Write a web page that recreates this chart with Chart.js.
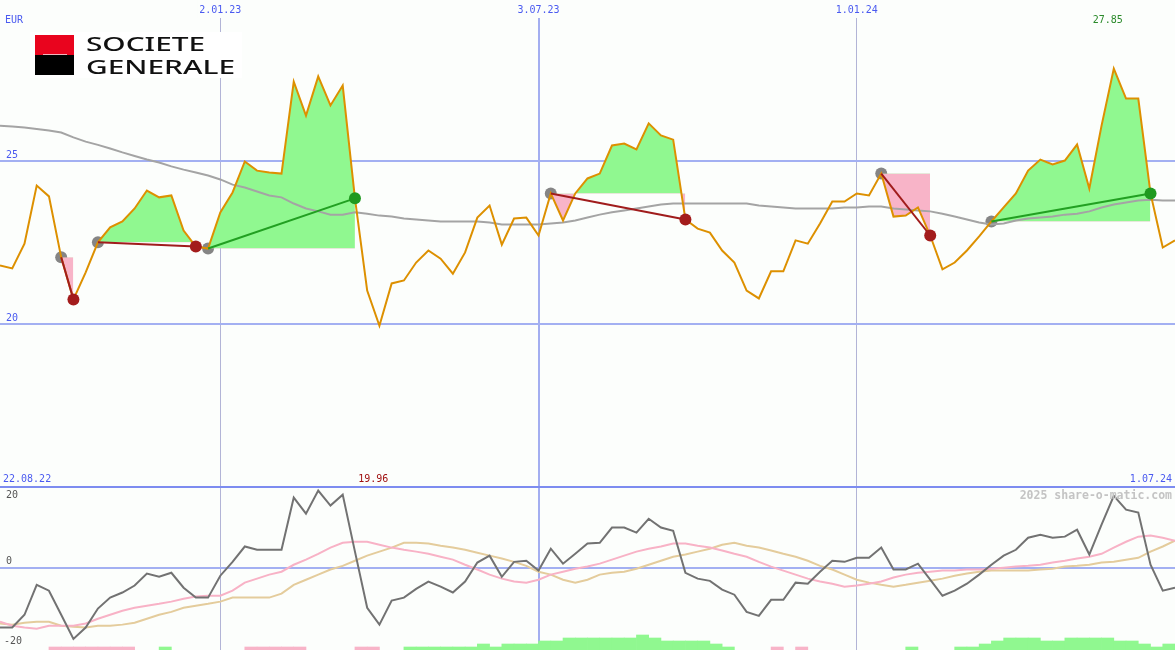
<!DOCTYPE html>
<html>
<head>
<meta charset="utf-8">
<script src="https://cdn.jsdelivr.net/npm/chart.js@4.4.1/dist/chart.umd.min.js"></script>
<style>
  body { margin: 0; background: #fcfefc; }
  #wrap { position: relative; width: 1175px; height: 650px; }
  canvas { display: block; background: #fcfefc; }
</style>
</head>
<body>
<div id="wrap"><canvas id="chart" width="1175" height="650"></canvas></div>
<script>
// weekly closes, 22.08.22 .. 1.07.24 (EUR)
const price = [21.81, 21.72, 22.48, 24.26, 23.93, 22.06, 20.77, 21.60, 22.52, 22.98,
  23.16, 23.56, 24.11, 23.90, 23.96, 22.88, 22.39, 22.33, 23.44, 24.05,
  25.00, 24.72, 24.66, 24.63, 27.45, 26.41, 27.61, 26.72, 27.33, 23.87,
  21.04, 19.96, 21.26, 21.35, 21.90, 22.27, 22.02, 21.56, 22.21, 23.28,
  23.65, 22.45, 23.25, 23.28, 22.73, 24.02, 23.19, 24.02, 24.48, 24.63,
  25.49, 25.55, 25.37, 26.17, 25.80, 25.67, 23.22, 22.94, 22.82, 22.27,
  21.90, 21.04, 20.80, 21.63, 21.63, 22.58, 22.48, 23.10, 23.77, 23.77,
  24.02, 23.96, 24.63, 23.31, 23.34, 23.59, 22.73, 21.69, 21.90, 22.27,
  22.70, 23.16, 23.59, 24.02, 24.72, 25.06, 24.91, 25.03, 25.52, 24.17,
  26.10, 27.85, 26.93, 26.93, 24.02, 22.36, 22.58];

// long moving average (grey)
const priceAvg = [26.10, 26.07, 26.04, 26.00, 25.95, 25.89, 25.74, 25.61, 25.51, 25.40,
  25.28, 25.17, 25.06, 24.97, 24.85, 24.75, 24.66, 24.57, 24.45, 24.29,
  24.20, 24.08, 23.96, 23.90, 23.71, 23.56, 23.47, 23.37, 23.37, 23.44,
  23.40, 23.34, 23.31, 23.25, 23.22, 23.19, 23.16, 23.16, 23.16, 23.16,
  23.13, 23.07, 23.07, 23.07, 23.07, 23.10, 23.13, 23.19, 23.28, 23.37,
  23.44, 23.50, 23.56, 23.62, 23.68, 23.71, 23.71, 23.71, 23.71, 23.71,
  23.71, 23.71, 23.65, 23.62, 23.59, 23.56, 23.56, 23.56, 23.56, 23.59,
  23.59, 23.62, 23.62, 23.56, 23.53, 23.50, 23.47, 23.40, 23.31, 23.22,
  23.13, 23.07, 23.10, 23.19, 23.25, 23.28, 23.31, 23.37, 23.40, 23.47,
  23.59, 23.68, 23.74, 23.80, 23.83, 23.80, 23.80];

// trades: entry / exit week index
const tradeEntry = [5, 8, 17, 45, 72, 81];
const tradeExit = [6, 16, 29, 56, 76, 94];

// lower panel: oscillator and its two averages
const osc = [-16.4, -16.4, -12.9, -4.7, -6.3, -12.9, -19.5, -16.4, -11.2, -8.2,
  -6.8, -4.9, -1.6, -2.5, -1.4, -5.5, -8.2, -8.2, -2.2, 1.6,
  5.8, 4.9, 4.9, 4.9, 19.2, 14.8, 21.1, 17.0, 20.0, 4.4,
  -11.0, -15.6, -9.0, -8.2, -5.8, -3.8, -5.2, -6.8, -3.8, 1.4,
  3.3, -2.5, 1.6, 1.9, -0.8, 5.2, 1.1, 3.8, 6.6, 6.8,
  11.0, 11.0, 9.6, 13.4, 11.0, 10.1, -1.4, -3.0, -3.6, -6.0,
  -7.4, -12.1, -13.2, -8.8, -8.8, -4.1, -4.4, -1.1, 1.9, 1.6,
  2.7, 2.7, 5.5, -0.5, -0.5, 1.1, -3.3, -7.7, -6.3, -4.4,
  -1.9, 0.8, 3.3, 4.9, 8.2, 9.0, 8.2, 8.5, 10.4, 3.6,
  11.8, 19.7, 15.9, 15.1, 0.8, -6.3, -5.5];

const oscAvgFast = [-14.8, -15.9, -16.4, -16.7, -15.9, -15.9, -15.9, -15.3, -14.0, -12.9,
  -11.8, -11.0, -10.4, -9.9, -9.3, -8.5, -7.9, -7.7, -7.7, -6.3,
  -4.1, -3.0, -1.9, -1.1, 0.8, 2.2, 3.8, 5.5, 6.8, 7.1,
  7.1, 6.3, 5.5, 4.9, 4.4, 3.8, 3.0, 2.2, 0.8, -0.5,
  -1.9, -3.0, -3.8, -4.1, -3.3, -1.9, -1.1, -0.3, 0.3, 1.1,
  2.2, 3.3, 4.4, 5.2, 5.8, 6.6, 6.6, 6.0, 5.5, 4.7,
  3.8, 3.0, 1.6, 0.3, -0.8, -1.9, -3.0, -3.8, -4.4, -5.2,
  -4.9, -4.4, -3.8, -2.7, -1.9, -1.4, -1.1, -0.8, -0.8, -0.5,
  -0.5, -0.3, 0.0, 0.3, 0.5, 0.8, 1.4, 1.9, 2.5, 3.0,
  3.8, 5.5, 7.1, 8.5, 8.8, 8.2, 7.4];

const oscAvgSlow = [-15.3, -15.6, -15.1, -14.8, -14.8, -15.9, -16.2, -16.4, -15.9, -15.9,
  -15.6, -15.1, -14.0, -12.9, -12.1, -11.0, -10.4, -9.9, -9.3, -8.2,
  -8.2, -8.2, -8.2, -7.1, -4.7, -3.3, -1.9, -0.5, 0.5, 1.9,
  3.3, 4.4, 5.5, 6.8, 6.8, 6.6, 6.0, 5.5, 4.9, 4.1,
  3.3, 2.5, 1.6, 0.5, -1.1, -1.9, -3.3, -4.1, -3.3, -1.9,
  -1.4, -1.1, -0.3, 0.8, 1.9, 3.0, 3.6, 4.4, 5.2, 6.3,
  6.8, 6.0, 5.5, 4.7, 3.8, 3.0, 1.9, 0.5, -0.5, -1.9,
  -3.3, -4.1, -4.7, -5.2, -4.7, -4.1, -3.6, -3.0, -2.2, -1.6,
  -1.1, -0.8, -0.8, -0.8, -0.8, -0.5, -0.3, 0.3, 0.5, 0.8,
  1.4, 1.6, 2.2, 2.7, 4.4, 5.8, 7.4];

// signal bars at the bottom (+ green, - pink)
const signal = [0, 0, 0, 0, -1, -1, -1, -1, -1, -1,
  -1, 0, 0, 1, 0, 0, 0, 0, 0, 0,
  -1, -1, -1, -1, -1, 0, 0, 0, 0, -1,
  -1, 0, 0, 1, 1, 1, 1, 1, 1, 2,
  1, 2, 2, 2, 3, 3, 4, 4, 4, 4,
  4, 4, 5, 4, 3, 3, 3, 3, 2, 1,
  0, 0, 0, -1, 0, -1, 0, 0, 0, 0,
  0, 0, 0, 0, 1, 0, 0, 0, 1, 1,
  2, 3, 4, 4, 4, 3, 3, 4, 4, 4,
  4, 3, 3, 2, 1, 2, 0];

// axis ticks
const xTickIdx = [18, 44, 70];
const xTickLabels = ['2.01.23', '3.07.23', '1.01.24'];
const priceTicks = [15, 20, 25];
const oscLabels = [20, 0, -20];
const firstDate = '22.08.22';
const lastDate = '1.07.24';

const BG = '#fcfefc';
const BLUE_TXT = '#4a5af0';
const GREEN_FILL = '#90f890';
const PINK_FILL = '#f8b4c8';

const pts = (arr, from, to) => {
  const out = [];
  for (let i = from; i <= to; i++) out.push({ x: i, y: arr[i] });
  return out;
};

// scales fill the whole canvas: no axis space, no edge padding
const noSpace = s => {
  if (s.isHorizontal()) s.height = 0; else s.width = 0;
  s.paddingTop = 0; s.paddingBottom = 0; s.paddingLeft = 0; s.paddingRight = 0;
};

const datasets = [];

// exit markers
datasets.push({
  data: tradeExit.map(i => ({ x: i, y: price[i] })),
  showLine: false,
  pointRadius: 6,
  pointBorderWidth: 0,
  pointBackgroundColor: tradeExit.map((e, k) => price[e] >= price[tradeEntry[k]] ? '#1f9a1f' : '#a31c1c'),
  order: 0, yAxisID: 'y'
});

// trade connectors
tradeEntry.forEach((s, k) => {
  const e = tradeExit[k];
  datasets.push({
    data: [{ x: s, y: price[s] }, { x: e, y: price[e] }],
    borderColor: price[e] >= price[s] ? '#22a022' : '#a01c1c',
    borderWidth: 2, pointRadius: 0, order: 1, yAxisID: 'y'
  });
});

// price
datasets.push({
  data: pts(price, 0, price.length - 1),
  borderColor: '#dd9000', borderWidth: 2, pointRadius: 0, order: 2, yAxisID: 'y'
});

// moving average
datasets.push({
  data: pts(priceAvg, 0, priceAvg.length - 1),
  borderColor: '#a4a4a4', borderWidth: 2, pointRadius: 0, order: 3, yAxisID: 'y'
});

// trade profit/loss areas
tradeEntry.forEach((s, k) => {
  const e = tradeExit[k];
  datasets.push({
    data: pts(price, s, e),
    borderWidth: 0, pointRadius: 0,
    fill: { target: { value: price[s] }, above: GREEN_FILL, below: PINK_FILL },
    order: 4, yAxisID: 'y'
  });
});

// entry markers
datasets.push({
  data: tradeEntry.map(i => ({ x: i, y: price[i] })),
  showLine: false, pointRadius: 6, pointBorderWidth: 0,
  pointBackgroundColor: '#858585', order: 5, yAxisID: 'y'
});

// oscillator
datasets.push({
  data: pts(osc, 0, osc.length - 1),
  borderColor: '#727272', borderWidth: 2, pointRadius: 0, order: 6, yAxisID: 'yOsc'
});
datasets.push({
  data: pts(oscAvgFast, 0, oscAvgFast.length - 1),
  borderColor: '#f8b2c6', borderWidth: 2, pointRadius: 0, order: 7, yAxisID: 'yOsc'
});
datasets.push({
  data: pts(oscAvgSlow, 0, oscAvgSlow.length - 1),
  borderColor: '#e4cc9c', borderWidth: 2, pointRadius: 0, order: 8, yAxisID: 'yOsc'
});

// signal bars
datasets.push({
  type: 'bar',
  data: signal.map((v, i) => ({ x: i + 0.5, y: v === 0 ? null : Math.abs(v) })),
  backgroundColor: signal.map(v => v > 0 ? GREEN_FILL : PINK_FILL),
  borderWidth: 0, barPercentage: 1, categoryPercentage: 1,
  order: 9, yAxisID: 'yBar'
});

// texts that are not axis ticks, plus the logo
const overlay = {
  id: 'overlay',
  afterDraw(chart) {
    const ctx = chart.ctx;
    const xs = chart.scales.x;
    const yo = chart.scales.yOsc;
    ctx.save();
    ctx.textBaseline = 'middle';
    ctx.font = '10px "DejaVu Sans Mono"';

    ctx.fillStyle = BLUE_TXT;
    ctx.textAlign = 'left';
    ctx.fillText('EUR', 5, 20);
    ctx.fillText(firstDate, 3, 479);
    ctx.textAlign = 'right';
    ctx.fillText(lastDate, 1172, 479);

    const maxV = Math.max(...price), minV = Math.min(...price);
    ctx.textAlign = 'center';
    ctx.fillStyle = '#2a8a2a';
    ctx.fillText(maxV.toFixed(2), xs.getPixelForValue(price.indexOf(maxV) - 0.5), 20);
    ctx.fillStyle = '#a01010';
    ctx.fillText(minV.toFixed(2), xs.getPixelForValue(price.indexOf(minV) - 0.5), 479);

    ctx.fillStyle = '#555555';
    ctx.textAlign = 'left';
    oscLabels.forEach(v => {
      const y = yo.getPixelForValue(v) + (v === 0 ? -6 : 1);
      ctx.fillText(String(v), v < 0 ? 4 : 6, y);
    });

    ctx.font = 'bold 11.5px "DejaVu Sans Mono"';
    ctx.fillStyle = '#c4c4c4';
    ctx.textAlign = 'right';
    ctx.fillText('2025 share-o-matic.com', 1172, 496);

    // logo
    ctx.fillStyle = '#ffffff';
    ctx.fillRect(30, 32, 212, 46);
    ctx.fillStyle = '#e9041e';
    ctx.fillRect(35, 35, 39, 20);
    ctx.fillStyle = '#000000';
    ctx.fillRect(35, 55, 39, 20);
    ctx.fillStyle = '#f3b4bc';
    ctx.fillRect(43, 54, 24, 1);
    ctx.fillStyle = '#111111';
    ctx.textAlign = 'left';
    ctx.textBaseline = 'alphabetic';
    ctx.font = '500 20px "Noto Sans"';
    [['SOCIETE', 50.5, 119], ['GENERALE', 74, 149]].forEach(([t, y, w]) => {
      const m = ctx.measureText(t).width;
      ctx.save();
      ctx.translate(86, y);
      ctx.scale(w / m, 1);
      ctx.fillText(t, 0, 0);
      ctx.restore();
    });
    ctx.restore();
  }
};

new Chart(document.getElementById('chart'), {
  type: 'line',
  data: { datasets },
  plugins: [overlay],
  options: {
    responsive: false,
    animation: false,
    layout: { padding: 0, autoPadding: false },
    elements: { line: { tension: 0 } },
    plugins: { legend: { display: false }, tooltip: { enabled: false } },
    scales: {
      x: {
        type: 'linear', position: 'top', min: 0, max: 96, offset: false,
        afterFit: noSpace,
        afterBuildTicks: s => { s.ticks = xTickIdx.map(v => ({ value: v })); },
        ticks: {
          mirror: true, padding: 4, autoSkip: false, maxRotation: 0,
          color: BLUE_TXT, font: { family: 'DejaVu Sans Mono', size: 10 },
          callback: v => xTickLabels[xTickIdx.indexOf(v)],
          showLabelBackdrop: true, backdropColor: BG,
          backdropPadding: { top: 4, bottom: 2, left: 2, right: 2 }
        },
        grid: {
          offset: false,
          drawTicks: false,
          color: c => (c.tick && c.tick.value === 44) ? '#a3aef0' : '#b2b4d6',
          lineWidth: c => (c.tick && c.tick.value === 44) ? 2 : 1
        },
        border: { display: false }
      },
      y: {
        type: 'linear', position: 'left', min: 10.015, max: 29.954,
        afterFit: noSpace,
        afterBuildTicks: s => { s.ticks = priceTicks.map(v => ({ value: v })); },
        ticks: {
          mirror: true, padding: 6, labelOffset: -6,
          color: BLUE_TXT, font: { family: 'DejaVu Sans Mono', size: 10 },
          callback: v => v === 15 ? '' : String(v)
        },
        grid: {
          drawTicks: false,
          color: c => (c.tick && c.tick.value === 15) ? '#7d8cf0' : '#a3b0f2',
          lineWidth: 2
        },
        border: { display: false }
      },
      yOsc: {
        type: 'linear', position: 'left', min: -22.55, max: 155.5,
        afterFit: noSpace,
        afterBuildTicks: s => { s.ticks = [{ value: 0 }]; },
        ticks: { display: false },
        grid: { drawTicks: false, color: '#a3b0f2', lineWidth: 2 },
        border: { display: false }
      },
      yBar: {
        type: 'linear', display: false, min: 0, max: 216.67
      }
    }
  }
});
</script>
</body>
</html>
